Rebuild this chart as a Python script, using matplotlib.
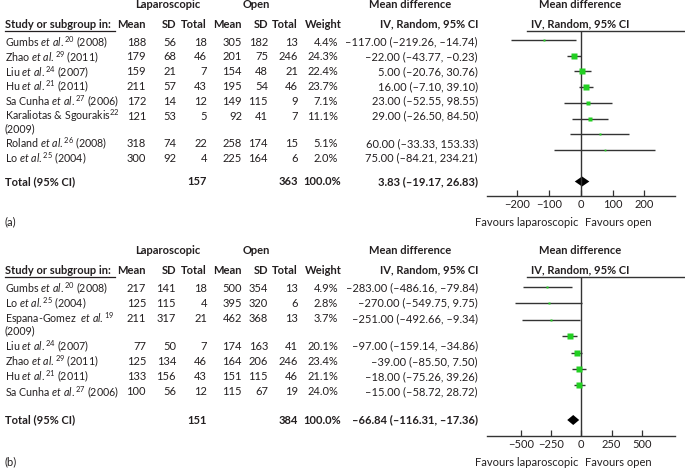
import numpy as np
import matplotlib
matplotlib.use("Agg")
import matplotlib.pyplot as plt
from matplotlib.lines import Line2D

plt.rcParams['font.family'] = ['Lato', 'DejaVu Sans']
plt.rcParams['mathtext.fontset'] = 'custom'
plt.rcParams['mathtext.rm'] = 'Lato'
plt.rcParams['mathtext.it'] = 'Lato:italic'
plt.rcParams['mathtext.bf'] = 'Lato:bold'

# ---- panel (a) data ----
studies_a = [r"Gumbs $\mathit{et\ al.}^{20}$ (2008)", r"Zhao $\mathit{et\ al.}^{29}$ (2011)",
             r"Liu $\mathit{et\ al.}^{24}$ (2007)", r"Hu $\mathit{et\ al.}^{21}$ (2011)",
             r"Sa Cunha $\mathit{et\ al.}^{27}$ (2006)", "Karaliotas & Sgourakis$^{22}$\n(2009)",
             r"Roland $\mathit{et\ al.}^{26}$ (2008)", r"Lo $\mathit{et\ al.}^{25}$ (2004)"]
lap_mean_a = [188, 179, 159, 211, 172, 121, 318, 300]
lap_sd_a = [56, 68, 21, 57, 14, 53, 74, 92]
lap_n_a = [18, 46, 7, 43, 12, 5, 22, 4]
open_mean_a = [305, 201, 154, 195, 149, 92, 258, 225]
open_sd_a = [182, 75, 48, 54, 115, 41, 174, 164]
open_n_a = [13, 246, 21, 46, 9, 7, 15, 6]
weight_a = [4.4, 24.3, 22.4, 23.7, 7.1, 11.1, 5.1, 2.0]
md_a = [-117.00, -22.00, 5.00, 16.00, 23.00, 29.00, 60.00, 75.00]
lo_a = [-219.26, -43.77, -20.76, -7.10, -52.55, -26.50, -33.33, -84.21]
hi_a = [-14.74, -0.23, 30.76, 39.10, 98.55, 84.50, 153.33, 234.21]
total_a = {"lap_n": 157, "open_n": 363, "weight": 100.0, "md": 3.83, "lo": -19.17, "hi": 26.83}
ticks_a = [-200, -100, 0, 100, 200]

# ---- panel (b) data ----
studies_b = [r"Gumbs $\mathit{et\ al.}^{20}$ (2008)", r"Lo $\mathit{et\ al.}^{25}$ (2004)",
             "Espana-Gomez  $\\mathit{et\\ al.}^{19}$\n(2009)", r"Liu $\mathit{et\ al.}^{24}$ (2007)",
             r"Zhao $\mathit{et\ al.}^{29}$ (2011)", r"Hu $\mathit{et\ al.}^{21}$ (2011)",
             r"Sa Cunha $\mathit{et\ al.}^{27}$ (2006)"]
lap_mean_b = [217, 125, 211, 77, 125, 133, 100]
lap_sd_b = [141, 115, 317, 50, 134, 156, 56]
lap_n_b = [18, 4, 21, 7, 46, 43, 12]
open_mean_b = [500, 395, 462, 174, 164, 151, 115]
open_sd_b = [354, 320, 368, 163, 206, 115, 67]
open_n_b = [13, 6, 13, 41, 246, 46, 19]
weight_b = [4.9, 2.8, 3.7, 20.1, 23.4, 21.1, 24.0]
md_b = [-283.00, -270.00, -251.00, -97.00, -39.00, -18.00, -15.00]
lo_b = [-486.16, -549.75, -492.66, -159.14, -85.50, -75.26, -58.72]
hi_b = [-79.84, 9.75, -9.34, -34.86, 7.50, 39.26, 28.72]
total_b = {"lap_n": 151, "open_n": 384, "weight": 100.0, "md": -66.84, "lo": -116.31, "hi": -17.36}
ticks_b = [-500, -250, 0, 250, 500]

W, H = 685, 470
TXT = '#231f20'
GREEN = '#22cf22'
LINE = '#333333'
FS = 8
FS_LAB = 7.7

fig = plt.figure(figsize=(W / 100, H / 100), dpi=100)
tx = fig.add_axes([0, 0, 1, 1])
tx.set_xlim(0, W)
tx.set_ylim(H, 0)
tx.axis('off')


def fmt(v):
    return f"{v:.2f}".replace('-', '\u2013')


def draw_panel(top, text_y0, step, forest_rows, total_y, axis_y, xlim, ticks, letter,
               studies, lap_mean, lap_sd, lap_n, open_mean, open_sd, open_n,
               weight, md, lo, hi, total):
    # header rows
    hy1, hy2, line_y = top, top + 19, top + 25.5
    tx.text(168, hy1, "Laparoscopic", ha='center', va='center', fontsize=FS, weight='bold', color=TXT)
    tx.text(256, hy1, "Open", ha='center', va='center', fontsize=FS, weight='bold', color=TXT)
    tx.text(410, hy1, "Mean difference", ha='center', va='center', fontsize=FS, weight='bold', color=TXT)
    tx.text(580, hy1, "Mean difference", ha='center', va='center', fontsize=FS, weight='bold', color=TXT)
    tx.text(5, hy2, "Study or subgroup in:", ha='left', va='center', fontsize=FS, weight='bold', color=TXT)
    for xr, lab in [(146, "Mean"), (176, "SD"), (207, "Total"), (242, "Mean"), (268, "SD"),
                    (298, "Total"), (342, "Weight"), (478, "IV, Random, 95% CI")]:
        tx.text(xr, hy2, lab, ha='right', va='center', fontsize=FS, weight='bold', color=TXT)
    tx.text(580, hy2, "IV, Random, 95% CI", ha='center', va='center', fontsize=FS, weight='bold', color=TXT)
    tx.add_line(Line2D([5, 115], [line_y, line_y], color=TXT, lw=0.9))
    tx.add_line(Line2D([527, 685], [line_y, line_y], color=LINE, lw=1))

    # table rows
    y = text_y0
    for i, name in enumerate(studies):
        parts = name.split("\n")
        tx.text(5, y, parts[0], ha='left', va='center', fontsize=FS_LAB, color=TXT)
        vals = [(146, lap_mean[i]), (176, lap_sd[i]), (207, lap_n[i]), (242, open_mean[i]),
                (268, open_sd[i]), (298, open_n[i])]
        for xr, v in vals:
            tx.text(xr, y, str(v), ha='right', va='center', fontsize=FS, color=TXT)
        tx.text(338, y, f"{weight[i]:.1f}%", ha='right', va='center', fontsize=FS, color=TXT)
        tx.text(478, y, f"{fmt(md[i])} ({fmt(lo[i])}, {fmt(hi[i])})", ha='right', va='center',
                fontsize=FS, color=TXT)
        if len(parts) > 1:
            y += 12.5
            tx.text(5, y, parts[1], ha='left', va='center', fontsize=FS_LAB, color=TXT)
        y += step

    tx.text(5, total_y, "Total (95% CI)", ha='left', va='center', fontsize=FS, weight='bold', color=TXT)
    tx.text(207, total_y, str(total["lap_n"]), ha='right', va='center', fontsize=FS, weight='bold', color=TXT)
    tx.text(298, total_y, str(total["open_n"]), ha='right', va='center', fontsize=FS, weight='bold', color=TXT)
    tx.text(341, total_y, f"{total['weight']:.1f}%", ha='right', va='center', fontsize=FS, weight='bold', color=TXT)
    tx.text(478, total_y, f"{fmt(total['md'])} ({fmt(total['lo'])}, {fmt(total['hi'])})",
            ha='right', va='center', fontsize=FS, weight='bold', color=TXT)

    # forest plot
    x0, x1 = 487, 675
    ax = fig.add_axes([x0 / W, 1 - axis_y / H, (x1 - x0) / W, (axis_y - line_y) / H])
    ax.patch.set_alpha(0)
    ax.set_xlim(*xlim)
    ax.set_ylim(axis_y, line_y)
    for s in ['top', 'left', 'right']:
        ax.spines[s].set_visible(False)
    ax.spines['bottom'].set_color(LINE)
    ax.spines['bottom'].set_linewidth(1)
    ax.set_yticks([])
    ax.set_xticks(ticks)
    ax.tick_params(axis='x', direction='in', length=4, width=0.9, color=LINE,
                   labelsize=FS, labelcolor=TXT, pad=2)
    ax.axvline(0, color=LINE, lw=1)
    ax.hlines(forest_rows, lo, hi, color=LINE, lw=1)
    for m, r, w in zip(md, forest_rows, weight):
        side = 6.2 * np.sqrt(w / 24.3)
        ax.plot(m, r, 's', ms=side * 0.72, color=GREEN, mec='none')
    hh = 5
    ax.fill([total['lo'], total['md'], total['hi'], total['md']],
            [total_y, total_y - hh, total_y, total_y + hh], color='black', lw=0)

    fav_y = axis_y + 26
    tx.text(578, fav_y, "Favours laparoscopic", ha='right', va='center', fontsize=FS, color=TXT)
    tx.text(585, fav_y, "Favours open", ha='left', va='center', fontsize=FS, color=TXT)
    tx.text(5, fav_y, letter, ha='left', va='center', fontsize=FS, color=TXT)


draw_panel(5, 42, 14.8, np.linspace(40, 150, len(md_a)), 181.5, 196, (-296, 297), ticks_a, "(a)",
           studies_a, lap_mean_a, lap_sd_a, lap_n_a, open_mean_a, open_sd_a, open_n_a,
           weight_a, md_a, lo_a, hi_a, total_a)
draw_panel(251, 288, 15.2, np.linspace(287, 385.4, len(md_b)), 420, 436, (-780, 775), ticks_b, "(b)",
           studies_b, lap_mean_b, lap_sd_b, lap_n_b, open_mean_b, open_sd_b, open_n_b,
           weight_b, md_b, lo_b, hi_b, total_b)

fig.savefig("out.png", dpi=100, facecolor='white')
